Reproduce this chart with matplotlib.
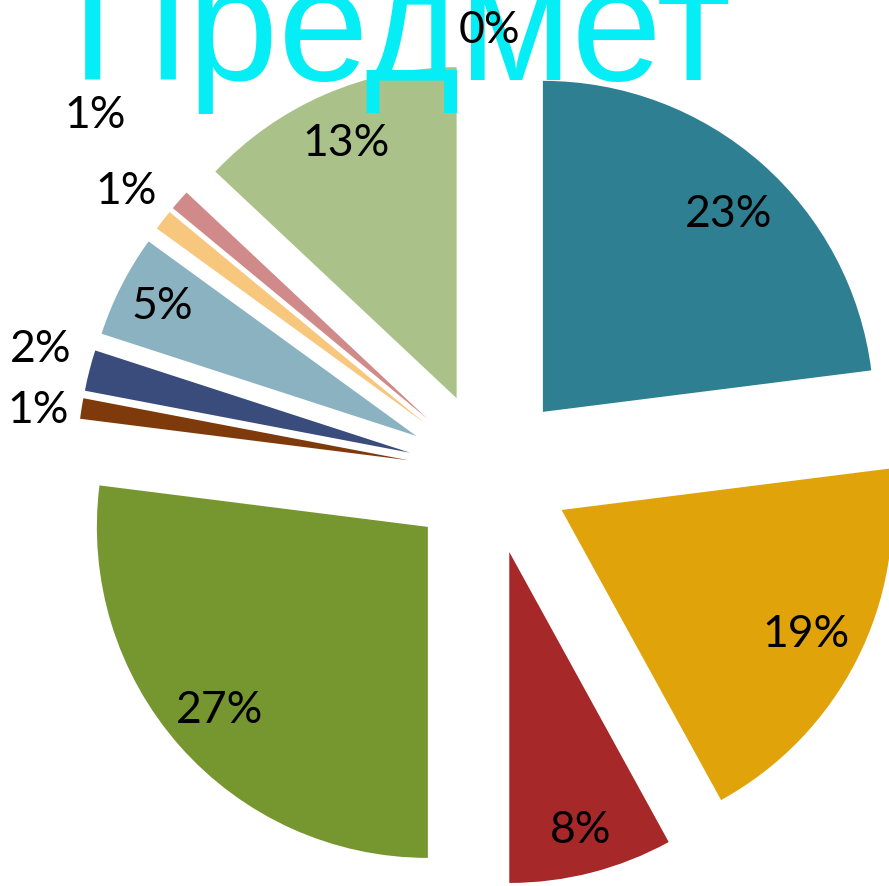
import numpy as np
import matplotlib
matplotlib.use("Agg")
import matplotlib.pyplot as plt

# Data (clockwise from 12 o'clock)
categories = ["A", "B", "C", "D", "E", "F", "G", "H", "I", "J", "K"]
values = [23, 19, 8, 27, 1, 2, 5, 1, 1, 13, 0]
pct_labels = ["23%", "19%", "8%", "27%", "1%", "2%", "5%", "1%", "1%", "13%", "0%"]
colors = ["#2E7F91", "#E0A309", "#A62828", "#76962F", "#7F3A0C", "#3A4C7C",
          "#8AB2C0", "#F8C77E", "#D08A8A", "#AAC28A", "#A0A0A0"]
title = "Предмет"

# label distance (fraction of radius, from exploded slice centre)
label_dist = [0.82, 0.83, 0.87, 0.84, 1.13, 1.16, 0.86, 1.14, 1.36, 0.84, 1.09]
label_angle_shift = [-1.8, 0, 0, 0, 1.3, -1.2, 0, 0, -1.0, 0, 0]

W, H = 889, 886
fig = plt.figure(figsize=(W / 100, H / 100), dpi=100)
ax = fig.add_axes([0, 0, 1, 1])

cx, cy, R = 489, H - 473, 331
explode_px = 81.5
wedges, _ = ax.pie(values, colors=colors, startangle=90, counterclock=False,
                   radius=R, center=(cx, cy), explode=[explode_px] * len(values),
                   wedgeprops=dict(linewidth=0), normalize=True)
ax.set_xlim(0, W)
ax.set_ylim(0, H)
ax.set_aspect("equal")
ax.axis("off")

# title
ax.text(402, H - 80, title, fontsize=117, color="#05EEF5",
        family=["Liberation Sans", "DejaVu Sans"], ha="center", va="baseline",
        zorder=5)

for w, lab, d, sh in zip(wedges, pct_labels, label_dist, label_angle_shift):
    mid = np.deg2rad((w.theta1 + w.theta2) / 2 + sh)
    x = w.center[0] + d * w.r * np.cos(mid)
    y = w.center[1] + d * w.r * np.sin(mid)
    ax.text(x, y, lab, fontsize=32, color="black", family=["Lato", "DejaVu Sans"],
            ha="center", va="center", zorder=10)

fig.savefig("out.png", dpi=100)
